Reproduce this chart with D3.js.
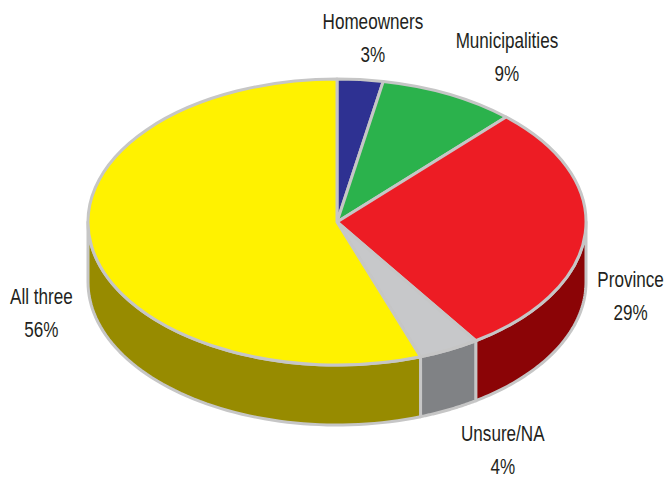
<!DOCTYPE html>
<html>
<head>
<meta charset="utf-8">
<script src="https://cdn.jsdelivr.net/npm/d3@7"></script>
<style>
  body { margin: 0; background: #fff; }
  text { font-family: "Liberation Sans", Arial, sans-serif; fill: #231f20; }
</style>
</head>
<body>
<div id="chart"></div>
<script>
// data
const categories = ["Homeowners", "Municipalities", "Province", "Unsure/NA", "All three"]
const percents = [3, 9, 29, 4, 56]

const WIDTH = 668
const HEIGHT = 480
const CX = 337, CY = 222      // centre of the top face
const RX = 249, RY = 143      // ellipse radii of the top face
const DEPTH = 60              // thickness of the pie
const SQUEEZE = 0.76          // narrow the labels, the original uses a condensed face

const topColor = d3.scaleOrdinal()
  .domain(categories)
  .range(["#2e3192", "#2bb24c", "#ed1c24", "#c7c8ca", "#fff200"])
const sideColor = d3.scaleOrdinal()
  .domain(categories)
  .range(["#1c1f5e", "#1a7a33", "#8b0406", "#808285", "#978b00"])

const svg = d3.select("#chart").append("svg")
  .attr("width", WIDTH)
  .attr("height", HEIGHT)

const table = categories.map((c, i) => ({ category: c, value: percents[i] }))

const pie = d3.pie()
  .sort(null)
  .value(d => d.value)
const arcs = pie(table)

// point on the rim, angle measured clockwise from 12 o'clock
const rim = (a, dy) => [CX + RX * Math.sin(a), CY - RY * Math.cos(a) + dy]

// side walls (only the front half is visible)
const line = d3.line()
const sides = svg.append("g").attr("class", "sides")
arcs.forEach(d => {
  const a0 = Math.max(d.startAngle, Math.PI / 2)
  const a1 = Math.min(d.endAngle, Math.PI * 3 / 2)
  if (a0 >= a1) return
  const steps = d3.range(0, 61).map(k => a0 + (a1 - a0) * k / 60)
  const pts = steps.map(a => rim(a, 0))
    .concat(steps.slice().reverse().map(a => rim(a, DEPTH)))
  sides.append("path")
    .attr("d", line(pts) + "Z")
    .attr("fill", sideColor(d.data.category))
    .attr("stroke", "#c6c6c6")
    .attr("stroke-width", 3)
    .attr("stroke-linejoin", "round")
})

// top faces
const arc = d3.arc().innerRadius(0).outerRadius(RX)
svg.append("g")
  .attr("transform", `translate(${CX}, ${CY}) scale(1, ${RY / RX})`)
  .selectAll("path")
  .data(arcs)
  .enter().append("path")
    .attr("d", arc)
    .attr("fill", d => topColor(d.data.category))
    .attr("stroke", "#c6c6c6")
    .attr("stroke-width", 3)
    .attr("stroke-linejoin", "round")
    .attr("vector-effect", "non-scaling-stroke")

// labels, placed outside the rim at each slice's mid angle
const labels = svg.append("g").attr("class", "labels")
arcs.forEach(d => {
  const mid = (d.startAngle + d.endAngle) / 2
  const s = Math.sin(mid), c = Math.cos(mid)
  const g = labels.append("g")
  const inner = g.append("g").attr("transform", `scale(${SQUEEZE}, 1)`)
  inner.append("text")
    .attr("text-anchor", "middle")
    .attr("y", -10)
    .attr("font-size", "22.5px")
    .text(d.data.category)
  inner.append("text")
    .attr("text-anchor", "middle")
    .attr("y", 23)
    .attr("font-size", "22.5px")
    .text(d.data.value + "%")
  const hw = inner.node().getBBox().width * SQUEEZE / 2
  const front = c < 0
  const x = CX + s * (RX + hw + 6) + 80 * s * Math.abs(c)
  const y = CY - c * (RY + 27 + (front ? 19 : 14)) + (front ? DEPTH : 0)
  g.attr("transform", `translate(${x}, ${y})`)
})
</script>
</body>
</html>
